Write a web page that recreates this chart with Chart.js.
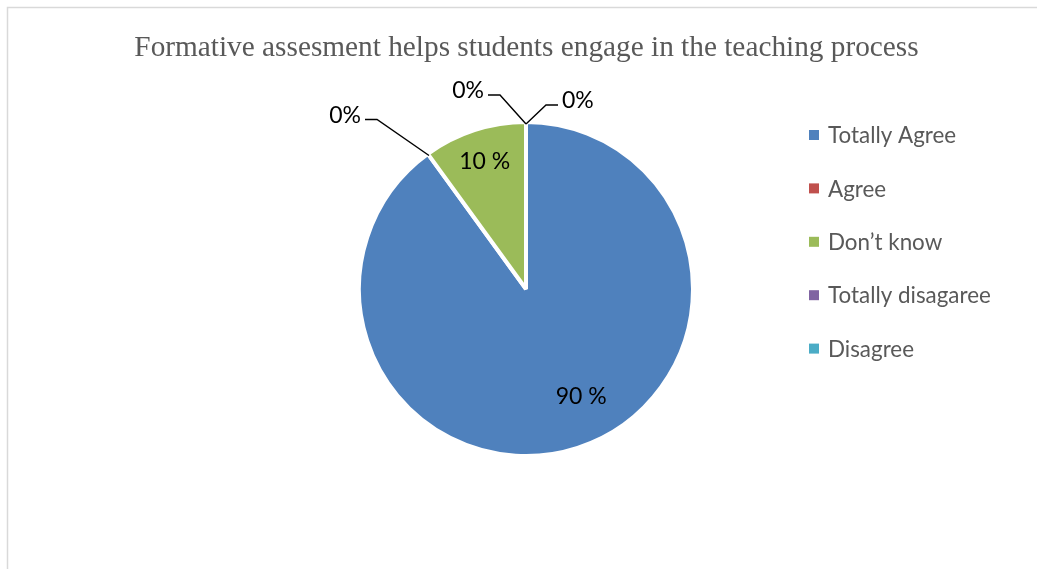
<!DOCTYPE html>
<html>
<head>
<meta charset="utf-8">
<title>Formative assesment</title>
<script src="https://cdn.jsdelivr.net/npm/chart.js@4.4.0/dist/chart.umd.min.js"></script>
<style>
  html, body { margin: 0; padding: 0; background: #fff; }
  canvas { display: block; }
</style>
</head>
<body>
<canvas id="pieChart" width="1037" height="569"></canvas>
<script>
'use strict';

// タイトル
const TITLE = 'Formative assesment helps students engage in the teaching process';
// 回答の区分
const categories = ['Totally Agree', 'Agree', 'Don’t know', 'Totally disagaree', 'Disagree'];
// 割合（%）
const percentages = [90, 0, 10, 0, 0];
// 区分ごとの色
const sliceColors = ['#4F81BD', '#C0504D', '#9BBB59', '#8064A2', '#4BACC6'];

const LABEL_FONT = '23px Lato, "Noto Sans", sans-serif';
const LEGEND_FONT = '22.4px Lato, "Noto Sans", sans-serif';

/**
 * ラベル文字列（0% は Excel 風に空白なし）
 */
function formatPercent(v) {
    return v === 0 ? `${v}%` : `${v} %`;
}

// 値 0 のスライス用の引き出し線（アンカーからの折れ点のずれ、水平線の向き）
const leaderLines = {
    1: { dx: -52, dy: -36, side: -1 },
    3: { dx: -26, dy: -29, side: -1 },
    4: { dx: 20, dy: -19, side: 1 }
};
// 値ラベルの位置（半径に対する割合、微調整）
const labelPlacement = {
    0: { r: 0.72, nx: 18, ny: -7 },
    2: { r: 0.80, nx: 0, ny: 0 }
};

const pieDecor = {
    id: 'pieDecor',
    beforeDraw(chart) {
        const ctx = chart.ctx;
        ctx.save();
        // 外枠（上と左だけ見える）
        ctx.strokeStyle = '#D9D9D9';
        ctx.lineWidth = 1.5;
        ctx.beginPath();
        ctx.moveTo(7.5, chart.height);
        ctx.lineTo(7.5, 7.5);
        ctx.lineTo(chart.width, 7.5);
        ctx.stroke();
        // タイトル
        ctx.fillStyle = '#595959';
        ctx.font = '29.3px "Liberation Serif", "DejaVu Serif", serif';
        ctx.textAlign = 'center';
        ctx.textBaseline = 'alphabetic';
        ctx.fillText(TITLE, 526.5, 56);
        ctx.restore();
    },
    afterDatasetsDraw(chart) {
        const ctx = chart.ctx;
        const meta = chart.getDatasetMeta(0);
        const values = chart.data.datasets[0].data;
        ctx.save();

        meta.data.forEach((arc, i) => {
            const { x, y, startAngle, endAngle, outerRadius } = arc.getProps(['x', 'y', 'startAngle', 'endAngle', 'outerRadius'], true);
            const text = formatPercent(values[i]);
            ctx.font = LABEL_FONT;
            ctx.fillStyle = '#000';

            if (values[i] > 0) {
                // スライスの中にラベル
                const p = labelPlacement[i] || { r: 0.75, nx: 0, ny: 0 };
                const mid = (startAngle + endAngle) / 2;
                const lx = x + Math.cos(mid) * outerRadius * p.r + p.nx;
                const ly = y + Math.sin(mid) * outerRadius * p.r + p.ny;
                ctx.textAlign = 'center';
                ctx.textBaseline = 'middle';
                ctx.fillText(text, lx, ly);
                return;
            }

            // 値 0 は外側に引き出し線付きで表示
            const leader = leaderLines[i];
            if (!leader) return;
            const r = outerRadius - 2;
            const ax = x + Math.cos(startAngle) * r;
            const ay = y + Math.sin(startAngle) * r;
            const bx = ax + leader.dx;
            const by = ay + leader.dy;
            const ex = bx + leader.side * 12;

            ctx.strokeStyle = '#000';
            ctx.lineWidth = 1.4;
            ctx.beginPath();
            ctx.moveTo(ax, ay);
            ctx.lineTo(bx, by);
            ctx.lineTo(ex, by);
            ctx.stroke();

            ctx.textAlign = leader.side < 0 ? 'right' : 'left';
            ctx.textBaseline = 'middle';
            ctx.fillText(text, ex + leader.side * 4, by - 4);
        });

        // 凡例
        ctx.font = LEGEND_FONT;
        ctx.textAlign = 'left';
        ctx.textBaseline = 'middle';
        chart.data.labels.forEach((label, i) => {
            const cy = 135 + i * 53.4;
            ctx.fillStyle = chart.data.datasets[0].backgroundColor[i];
            ctx.fillRect(809, cy - 5, 10, 10);
            ctx.fillStyle = '#595959';
            ctx.fillText(label, 828, cy + 1);
        });

        ctx.restore();
    }
};

const pieCtx = document.getElementById('pieChart');
const pieChart = new Chart(pieCtx, {
    type: 'pie',
    data: {
        labels: categories,
        datasets: [{
            data: percentages,
            backgroundColor: sliceColors,
            borderColor: '#FFFFFF',
            borderWidth: 4
        }]
    },
    options: {
        responsive: false,
        animation: false,
        layout: {
            padding: { left: 357, right: 342, top: 120, bottom: 111 }
        },
        plugins: {
            legend: { display: false },
            tooltip: { enabled: false },
            title: { display: false }
        }
    },
    plugins: [pieDecor]
});
</script>
</body>
</html>
